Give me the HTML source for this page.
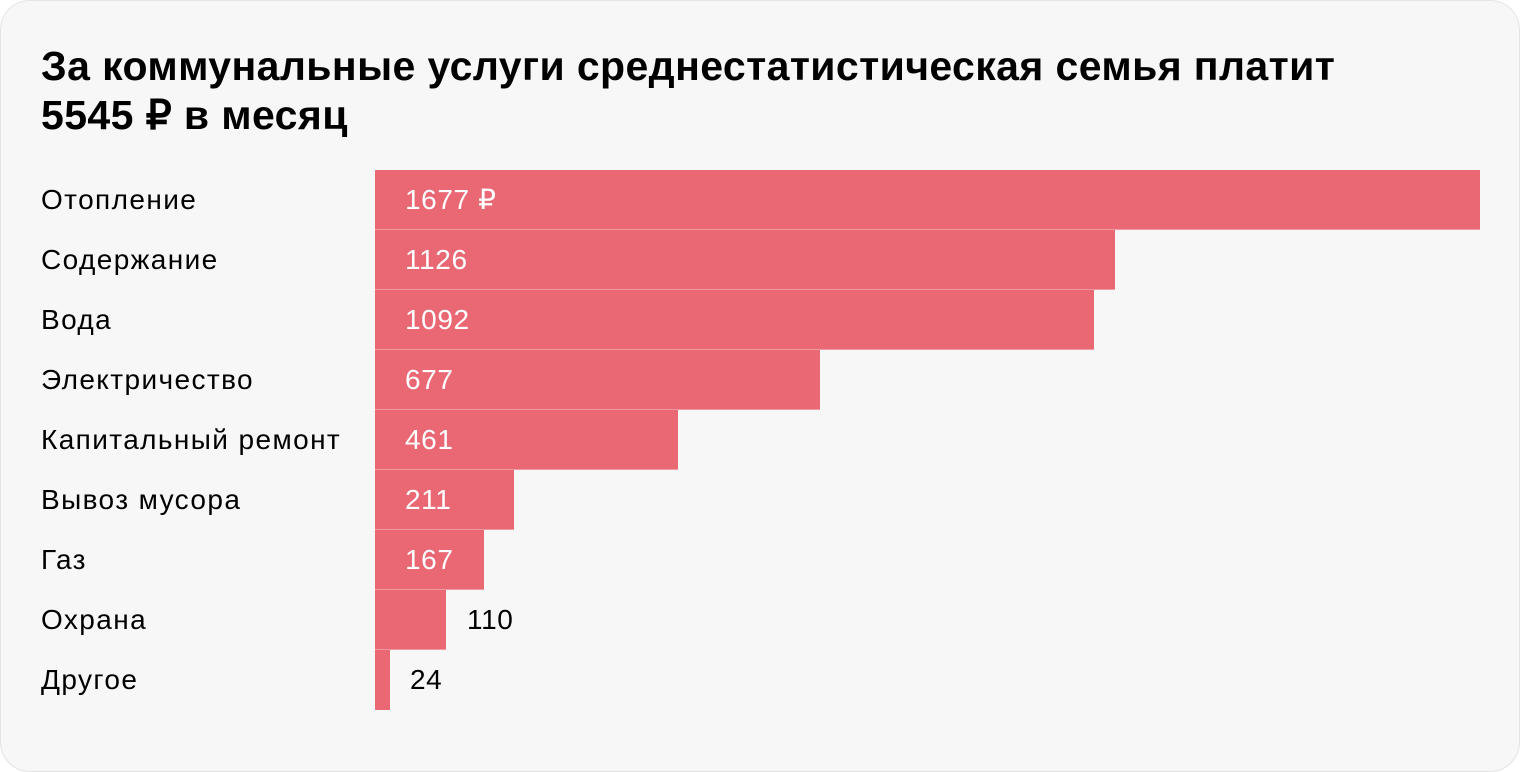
<!DOCTYPE html>
<html><head><meta charset="utf-8"><style>
body{margin:0;width:1520px;height:772px;background:#fff;font-family:"Liberation Sans",sans-serif;}
.card{position:absolute;left:0;top:0;width:1520px;height:772px;box-sizing:border-box;border:1px solid #e4e4e4;border-radius:30px;background:#f7f7f7;}
h1{position:absolute;left:40px;top:41px;margin:0;font-size:41px;line-height:49px;font-weight:bold;color:#000;letter-spacing:0.4px}
.row{position:absolute;left:0;height:60px;width:1518px}
.lab{position:absolute;left:40px;top:0;line-height:60px;font-size:28px;letter-spacing:1.4px;color:#000}
.bar{position:absolute;left:374px;top:0;height:59px;background:#e96874;border-bottom:1px solid #f19aa2}
.v{position:absolute;top:0;line-height:60px;font-size:28px;letter-spacing:0.6px}
</style></head><body><div class="card">
<h1>За коммунальные услуги среднестатистическая семья платит<br>5545 ₽ в месяц</h1>
<div class="row" style="top:169px"><div class="lab">Отопление</div><div class="bar" style="width:1105px"></div><div class="v" style="left:404px;color:#fff">1677 ₽</div></div>
<div class="row" style="top:229px"><div class="lab">Содержание</div><div class="bar" style="width:740px"></div><div class="v" style="left:404px;color:#fff">1126</div></div>
<div class="row" style="top:289px"><div class="lab">Вода</div><div class="bar" style="width:719px"></div><div class="v" style="left:404px;color:#fff">1092</div></div>
<div class="row" style="top:349px"><div class="lab">Электричество</div><div class="bar" style="width:445px"></div><div class="v" style="left:404px;color:#fff">677</div></div>
<div class="row" style="top:409px"><div class="lab">Капитальный ремонт</div><div class="bar" style="width:303px"></div><div class="v" style="left:404px;color:#fff">461</div></div>
<div class="row" style="top:469px"><div class="lab">Вывоз мусора</div><div class="bar" style="width:139px"></div><div class="v" style="left:404px;color:#fff">211</div></div>
<div class="row" style="top:529px"><div class="lab">Газ</div><div class="bar" style="width:109px"></div><div class="v" style="left:404px;color:#fff">167</div></div>
<div class="row" style="top:589px"><div class="lab">Охрана</div><div class="bar" style="width:71px"></div><div class="v" style="left:466px;color:#000">110</div></div>
<div class="row" style="top:649px"><div class="lab">Другое</div><div class="bar" style="width:15px;border-bottom:none;height:60px"></div><div class="v" style="left:409px;color:#000">24</div></div>
</div></body></html>
